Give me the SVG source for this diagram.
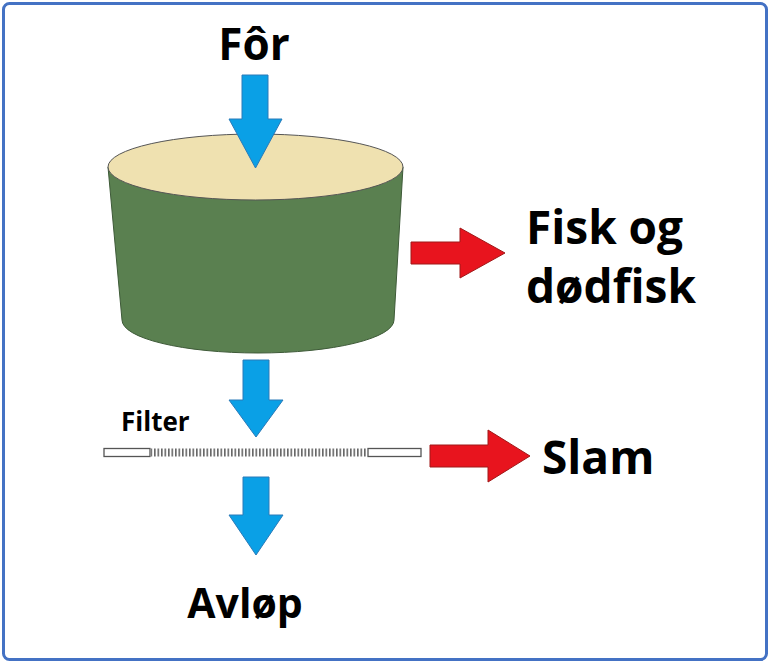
<svg xmlns="http://www.w3.org/2000/svg" width="770" height="663" viewBox="0 0 770 663">
<style>
.t{font-family:"Open Sans","Liberation Sans",sans-serif;font-weight:bold;fill:#000}
.b{fill:#0aa0e6;stroke:#2a7ab8;stroke-width:1}
.r{fill:#e8141e;stroke:#a01818;stroke-width:1}
</style>
<defs>
<pattern id="hatch" x="0" y="0" width="3.5" height="10" patternUnits="userSpaceOnUse"><rect x="0" y="0" width="1.6" height="10" fill="#666"/></pattern>
</defs>
<rect x="0" y="0" width="770" height="663" fill="#fff"/>
<rect x="3.5" y="3.5" width="763" height="656" rx="6" fill="#fff" stroke="#4472c4" stroke-width="3"/>
<g id="tank">
<path d="M108,167 L122,320 A136,33 0 0 0 394,320 L403,167 Z" fill="#5a8050" stroke="#3e5a38" stroke-width="1"/>
<ellipse cx="255.5" cy="167" rx="147.5" ry="33" fill="#efe1b0" stroke="#555" stroke-width="1"/>
</g>
<g id="connectors">
<path class="b" d="M242,75 H268 V119 H282 L255.5,168 L229,119 H242 Z"/>
<path class="b" d="M243,360 H269 V400 H283 L256,437 L229,400 H243 Z"/>
<path class="b" d="M243,477 H269 V515 H283 L256,555 L229,515 H243 Z"/>
<path class="r" d="M411,242 H460 V228 L505,253 L460,278 V264 H411 Z"/>
<path class="r" d="M430,445 H488 V430 L530,456 L488,482 V467 H430 Z"/>
</g>
<g id="filter">
<rect x="104" y="448.5" width="46" height="8" fill="#fff" stroke="#555" stroke-width="1.3"/>
<rect x="151" y="448.5" width="216" height="8" fill="url(#hatch)"/>
<rect x="368" y="448.5" width="53" height="8" fill="#fff" stroke="#555" stroke-width="1.3"/>
</g>
<g id="labels">
<text class="t" x="254" y="60" font-size="44" text-anchor="middle">Fôr</text>
<text class="t" x="526" y="244" font-size="46">Fisk og</text>
<text class="t" x="526" y="303" font-size="46">dødfisk</text>
<text class="t" x="542" y="474" font-size="46">Slam</text>
<text class="t" x="245" y="618" font-size="41" text-anchor="middle">Avløp</text>
<text class="t" x="121" y="431" font-size="26">Filter</text>
</g>
</svg>
